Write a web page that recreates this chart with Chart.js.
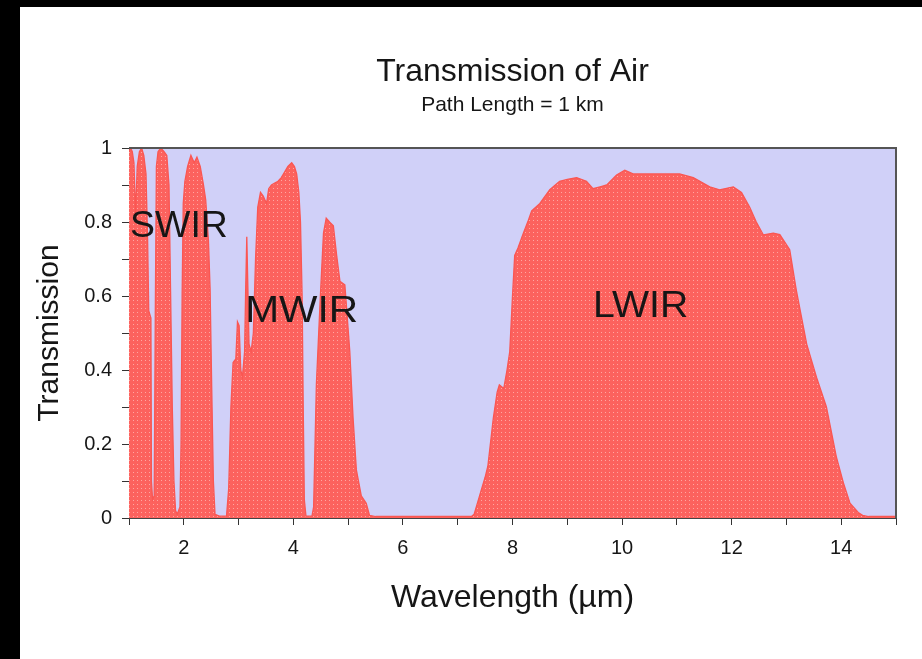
<!DOCTYPE html>
<html>
<head>
<meta charset="utf-8">
<title>Transmission of Air</title>
<script src="https://cdn.jsdelivr.net/npm/chart.js@4.4.1/dist/chart.umd.min.js"></script>
<style>
  html, body { margin:0; padding:0; background:#000; }
  body { width:922px; height:659px; overflow:hidden; position:relative; }
  #wrap { position:absolute; left:20px; top:7px; width:902px; height:652px; background:#fff; }
</style>
</head>
<body>
<div id="wrap"><canvas id="airChart"></canvas></div>
<script>
/* Transmission of Air — path length 1 km */

const wavelength = [
    1.00, 1.03, 1.06, 1.09, 1.12, 1.15, 1.19, 1.23, 1.27, 1.31, 1.34, 1.36, 1.40, 1.41, 1.43, 1.46, 1.48, 1.50,
    1.53, 1.58, 1.64, 1.69, 1.73, 1.76, 1.79, 1.82, 1.85, 1.88, 1.93, 1.95, 1.97, 1.99, 2.02, 2.07, 2.13, 2.19,
    2.24, 2.30, 2.36, 2.40, 2.45, 2.48, 2.51, 2.54, 2.57, 2.65, 2.78,
    2.82, 2.86, 2.90, 2.95, 2.98, 3.01, 3.04, 3.07, 3.11, 3.13, 3.15, 3.17, 3.19, 3.23, 3.27, 3.31, 3.35, 3.40,
    3.45, 3.51, 3.55, 3.60, 3.66, 3.72, 3.78, 3.84, 3.90, 3.97, 4.02, 4.06, 4.10, 4.13, 4.16, 4.18, 4.20, 4.23,
    4.34, 4.37, 4.42, 4.49, 4.55, 4.60, 4.66, 4.73, 4.79, 4.85, 4.94, 5.03, 5.09, 5.15, 5.24, 5.33, 5.39, 5.50,
    7.25,
    7.30, 7.40, 7.50, 7.55, 7.65, 7.72, 7.76, 7.84, 7.90, 7.95, 8.00, 8.04, 8.10, 8.20, 8.29, 8.35, 8.50, 8.68,
    8.86, 9.00, 9.17, 9.35, 9.47, 9.60, 9.72, 9.90, 10.05, 10.20, 10.57, 11.05, 11.30, 11.60, 11.78, 12.03,
    12.18, 12.33, 12.45, 12.58, 12.76, 12.88, 13.06, 13.18, 13.37, 13.55, 13.73, 13.91, 14.04, 14.16, 14.31,
    14.39, 14.50, 15.00
];
const transmission = [
    0.99, 1.00, 0.99, 0.96, 0.82, 0.95, 0.99, 1.00, 0.98, 0.93, 0.75, 0.56, 0.54, 0.10, 0.05, 0.06, 0.55, 0.95,
    0.99, 1.00, 0.99, 0.98, 0.90, 0.60, 0.30, 0.10, 0.02, 0.01, 0.03, 0.20, 0.60, 0.85, 0.91, 0.95, 0.98, 0.96,
    0.975, 0.95, 0.90, 0.86, 0.75, 0.62, 0.35, 0.10, 0.01, 0.005, 0.005,
    0.08, 0.30, 0.42, 0.43, 0.53, 0.52, 0.40, 0.38, 0.45, 0.62, 0.76, 0.62, 0.47, 0.45, 0.50, 0.70, 0.84, 0.88,
    0.87, 0.85, 0.89, 0.90, 0.905, 0.91, 0.92, 0.935, 0.95, 0.96, 0.95, 0.93, 0.88, 0.80, 0.60, 0.30, 0.05, 0.005,
    0.005, 0.03, 0.36, 0.59, 0.77, 0.81, 0.80, 0.79, 0.71, 0.64, 0.63, 0.45, 0.27, 0.13, 0.06, 0.04, 0.007, 0.004,
    0.004,
    0.01, 0.06, 0.11, 0.14, 0.27, 0.34, 0.36, 0.35, 0.40, 0.45, 0.60, 0.71, 0.73, 0.77, 0.805, 0.83, 0.85, 0.887,
    0.91, 0.915, 0.92, 0.91, 0.89, 0.895, 0.90, 0.927, 0.94, 0.93, 0.93, 0.93, 0.92, 0.895, 0.887, 0.895,
    0.88, 0.84, 0.80, 0.765, 0.77, 0.766, 0.725, 0.616, 0.47, 0.38, 0.30, 0.166, 0.095, 0.04, 0.015,
    0.007, 0.004, 0.004
];

const xTickLabels = [2, 4, 6, 8, 10, 12, 14];
const yTickLabels = [0, 0.2, 0.4, 0.6, 0.8, 1];
const regionNames = ['SWIR', 'MWIR', 'LWIR'];

const FONT = "'Liberation Sans', Arial, Helvetica, sans-serif";
const TEXT = '#161616';

/* ── dotted salmon fill, like the original bitmap ── */
function dotPattern(ctx) {
    const c = document.createElement('canvas');
    c.width = 4; c.height = 4;
    const g = c.getContext('2d');
    g.fillStyle = '#FC625E'; g.fillRect(0, 0, 4, 4);
    g.fillStyle = '#FFA6A2'; g.fillRect(1, 1, 1, 1);
    return ctx.createPattern(c, 'repeat');
}

/* ── plot background + frame ── */
const framePlugin = {
    id: 'frame',
    beforeDraw(chart) {
        const { ctx, chartArea: a } = chart;
        ctx.save();
        ctx.fillStyle = '#D0D0F8';
        ctx.fillRect(a.left, a.top, a.right - a.left, a.bottom - a.top);
        ctx.restore();
    },
    afterDraw(chart) {
        const { ctx, chartArea: a } = chart;
        ctx.save();
        ctx.strokeStyle = '#555';
        ctx.lineWidth = 2;
        ctx.beginPath();
        ctx.moveTo(a.left, a.top);
        ctx.lineTo(a.right, a.top);
        ctx.lineTo(a.right, a.bottom);
        ctx.stroke();
        ctx.restore();
    }
};

/* ── band names written inside the plot, anchored in data units ── */
const bandLabelPlugin = {
    id: 'bandLabels',
    afterDatasetsDraw(chart, args, opts) {
        const { ctx, scales: { x, y } } = chart;
        ctx.save();
        ctx.fillStyle = TEXT;
        ctx.font = `${opts.size}px ${FONT}`;
        ctx.textAlign = 'left';
        ctx.textBaseline = 'alphabetic';
        regionNames.forEach((name, i) => {
            const [wx, wy] = opts.anchors[i];
            ctx.save();
            ctx.translate(x.getPixelForValue(wx), y.getPixelForValue(wy));
            ctx.scale(opts.stretch[i], 1);   // the source lettering is a bit wide
            ctx.fillText(name, 0, 0);
            ctx.restore();
        });
        ctx.restore();
    }
};

const canvas = document.getElementById('airChart');
const ctx = canvas.getContext('2d');

new Chart(ctx, {
    type: 'line',
    data: {
        datasets: [{
            label: 'Transmission',
            data: wavelength.map((w, i) => ({ x: w, y: transmission[i] })),
            borderColor: '#FA5652',
            borderWidth: 1.3,
            backgroundColor: dotPattern(ctx),
            fill: 'origin',
            pointRadius: 0,
            tension: 0
        }]
    },
    options: {
        responsive: true,
        maintainAspectRatio: false,
        animation: false,
        layout: { padding: { left: 0, right: 26, top: 0, bottom: 0 } },
        plugins: {
            legend: { display: false },
            tooltip: { enabled: false },
            title: {
                display: true, text: 'Transmission of Air', fullSize: false,
                color: TEXT, font: { family: FONT, size: 32, weight: 'normal', lineHeight: 1.2 },
                padding: { top: 45.8, bottom: 0 }
            },
            subtitle: {
                display: true, text: 'Path Length = 1 km', fullSize: false,
                color: TEXT, font: { family: FONT, size: 21, weight: 'normal', lineHeight: 1.2 },
                padding: { top: 1.2, bottom: 30.4 }
            },
            bandLabels: {
                size: 36,
                anchors: [[1.02, 0.76], [3.12, 0.53], [9.47, 0.543]],
                stretch: [1.04, 1.13, 1.09]
            }
        },
        scales: {
            x: {
                type: 'linear', min: 1, max: 15,
                grid: { drawOnChartArea: false, drawTicks: true, tickLength: 7, tickColor: '#333' },
                border: { display: true, color: '#444', width: 1 },
                ticks: {
                    stepSize: 1, color: TEXT, padding: 11, maxRotation: 0, autoSkip: false,
                    font: { family: FONT, size: 20 },
                    callback: v => xTickLabels.includes(Math.round(v)) ? String(Math.round(v)) : ''
                },
                title: {
                    display: true, text: 'Wavelength (\u00b5m)', color: TEXT,
                    font: { family: FONT, size: 32, lineHeight: 1.2 },
                    padding: { top: 0, bottom: 41.8 }
                },
                afterFit: s => { s.height = 141; }
            },
            y: {
                min: 0, max: 1,
                grid: { drawOnChartArea: false, drawTicks: true, tickLength: 7, tickColor: '#333' },
                border: { display: true, color: '#444', width: 1 },
                ticks: {
                    stepSize: 0.1, color: TEXT, padding: 10, autoSkip: false,
                    font: { family: FONT, size: 20 },
                    callback: v => {
                        const r = Math.round(v * 10) / 10;
                        return yTickLabels.includes(r) ? String(r) : '';
                    }
                },
                title: {
                    display: true, text: 'Transmission', color: TEXT,
                    font: { family: FONT, size: 30, lineHeight: 1.2 },
                    padding: { top: 12, bottom: 0 }
                },
                afterFit: s => { s.width = 109; }
            }
        }
    },
    plugins: [framePlugin, bandLabelPlugin]
});
</script>
</body>
</html>
